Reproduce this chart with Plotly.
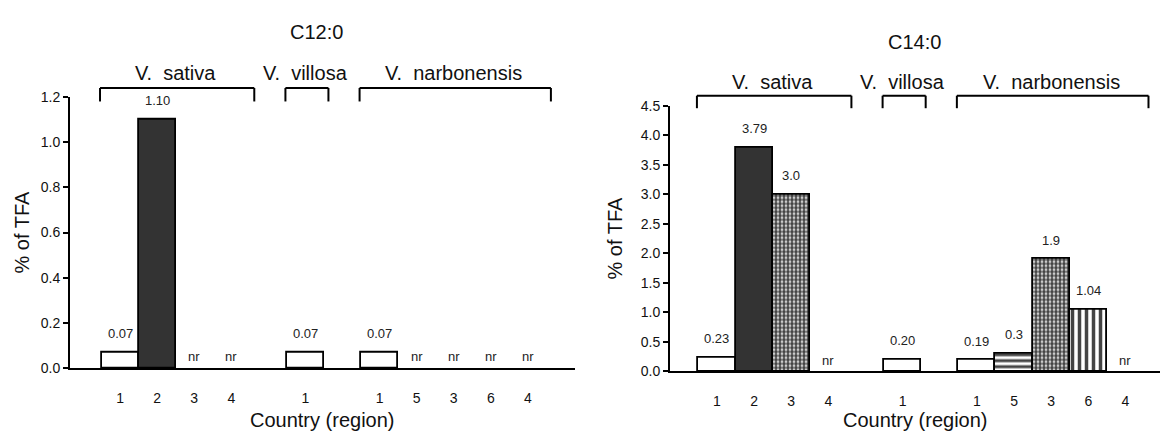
import plotly.graph_objects as go

W, H = 1162, 439

# ---------------- data ----------------
slots = [0, 1, 2, 3, 5, 7, 8, 9, 10, 11]
countries = ["1", "2", "3", "4", "1", "1", "5", "3", "6", "4"]
species = ["V.  sativa", "V.  villosa", "V.  narbonensis"]
species_slots = [[0, 1, 2, 3], [5], [7, 8, 9, 10, 11]]

c12_values = [0.07, 1.10, None, None, 0.07, 0.07, None, None, None, None]
c12_labels = ["0.07", "1.10", "nr", "nr", "0.07", "0.07", "nr", "nr", "nr", "nr"]

c14_values = [0.23, 3.79, 3.0, None, 0.20, 0.19, 0.3, 1.9, 1.04, None]
c14_labels = ["0.23", "3.79", "3.0", "nr", "0.20", "0.19", "0.3", "1.9", "1.04", "nr"]

panel_titles = ["C12:0", "C14:0"]
y_ticks_c12 = [0.0, 0.2, 0.4, 0.6, 0.8, 1.0, 1.2]
y_ticks_c14 = [0.0, 0.5, 1.0, 1.5, 2.0, 2.5, 3.0, 3.5, 4.0, 4.5]

# ---------------- styles ----------------
FONT = "Arial, Liberation Sans, sans-serif"
style_by_country = {
    "1": dict(color="white", shape="", size=8, sol=0.3),
    "2": dict(color="#333333", shape="", size=8, sol=0.3),
    "3": dict(color="white", shape=".", size=4, sol=0.7),
    "4": dict(color="white", shape="", size=8, sol=0.3),
    "5": dict(color="white", shape="-", size=6, sol=0.5),
    "6": dict(color="white", shape="|", size=7, sol=0.5),
}


def px(x):
    return x / W


def py(y):
    return 1 - y / H


panels = [
    dict(values=c12_values, labels=c12_labels, yticks=y_ticks_c12, yr=[0, 1.2],
         xdom=[px(70), px(575)], ydom=[py(374), py(92)], xr=[-1.35, 12.27],
         title_y=25, spec_y=67, br_top=83, br_bot=97, nr_shift=12, title_x=316),
    dict(values=c14_values, labels=c14_labels, yticks=y_ticks_c14, yr=[0, 4.5],
         xdom=[px(670), px(1160)], ydom=[py(377), py(101.4)], xr=[-1.265, 11.93],
         title_y=35, spec_y=77, br_top=91, br_bot=104, nr_shift=11, title_x=914),
]

fig = go.Figure()
annotations = []
shapes = []

for i, p in enumerate(panels):
    xa = "x" if i == 0 else "x2"
    ya = "y" if i == 0 else "y2"
    styles = [style_by_country[c] for c in countries]
    fig.add_trace(go.Bar(
        x=slots, y=p["values"], width=1.0,
        xaxis=xa, yaxis=ya,
        marker=dict(
            color=[s["color"] for s in styles],
            line=dict(color="black", width=1.8),
            pattern=dict(shape=[s["shape"] for s in styles],
                         size=[s["size"] for s in styles],
                         solidity=[s["sol"] for s in styles],
                         fgcolor="black", bgcolor="white", fillmode="overlay",
                         fgopacity=1),
        ),
        showlegend=False, hoverinfo="skip",
    ))
    # value labels
    for s, v, lab in zip(slots, p["values"], p["labels"]):
        annotations.append(dict(
            x=s, y=v if v is not None else 0, xref=xa, yref=ya,
            text=lab, showarrow=False, xanchor="center", yanchor="middle",
            yshift=19 if v is not None else p["nr_shift"],
            font=dict(family=FONT, size=13, color="#222"),
        ))
    # species brackets and labels
    for name, grp in zip(species, species_slots):
        x0, x1 = min(grp) - 0.54, max(grp) + 0.62
        yt, yb = py(p["br_top"]), py(p["br_bot"])
        for (a, b, c, d) in [(x0, yt, x1, yt), (x0, yt, x0, yb), (x1, yt, x1, yb)]:
            shapes.append(dict(type="line", xref=xa, yref="paper", x0=a, y0=b, x1=c, y1=d,
                               line=dict(color="black", width=2)))
        annotations.append(dict(
            x=(min(grp) + max(grp)) / 2, y=py(p["spec_y"]), xref=xa, yref="paper",
            text=name, showarrow=False, xanchor="center", yanchor="middle",
            font=dict(family=FONT, size=20, color="#111"),
        ))
    # panel title
    annotations.append(dict(
        x=px(p["title_x"]), y=py(p["title_y"]), xref="paper", yref="paper",
        text=panel_titles[i], showarrow=False, xanchor="center", yanchor="middle",
        font=dict(family=FONT, size=20, color="#111"),
    ))
    # axis titles
    annotations.append(dict(
        x=sum(p["xdom"]) / 2, y=py(428), xref="paper", yref="paper",
        text="Country (region)", showarrow=False, xanchor="center", yanchor="middle",
        font=dict(family=FONT, size=20, color="#111"),
    ))
    annotations.append(dict(
        x=px(22 if i == 0 else 615), y=sum(p["ydom"]) / 2, xref="paper", yref="paper",
        text="% of TFA", showarrow=False, textangle=-90, xanchor="center", yanchor="middle",
        font=dict(family=FONT, size=20, color="#111"),
    ))

    xkey = "xaxis" if i == 0 else "xaxis2"
    ykey = "yaxis" if i == 0 else "yaxis2"
    fig.update_layout({
        xkey: dict(domain=p["xdom"], range=p["xr"], anchor=ya,
                   tickmode="array", tickvals=slots, ticktext=countries,
                   showline=True, linecolor="black", linewidth=2,
                   ticks="outside", ticklen=16, tickcolor="rgba(0,0,0,0)",
                   showgrid=False, zeroline=False, fixedrange=True,
                   tickfont=dict(family=FONT, size=14, color="#111")),
        ykey: dict(domain=p["ydom"], range=p["yr"], anchor=xa,
                   tickmode="array", tickvals=p["yticks"], tickformat=".1f",
                   showline=True, linecolor="black", linewidth=2,
                   ticks="outside", ticklen=5, tickwidth=2, tickcolor="black",
                   showgrid=False, zeroline=False, fixedrange=True,
                   tickfont=dict(family=FONT, size=14, color="#111")),
    })

fig.update_layout(
    width=W, height=H,
    margin=dict(l=0, r=0, t=0, b=0),
    paper_bgcolor="white", plot_bgcolor="white",
    bargap=0, annotations=annotations, shapes=shapes,
    font=dict(family=FONT),
)

fig.write_html("out.html", config={"displayModeBar": False})
